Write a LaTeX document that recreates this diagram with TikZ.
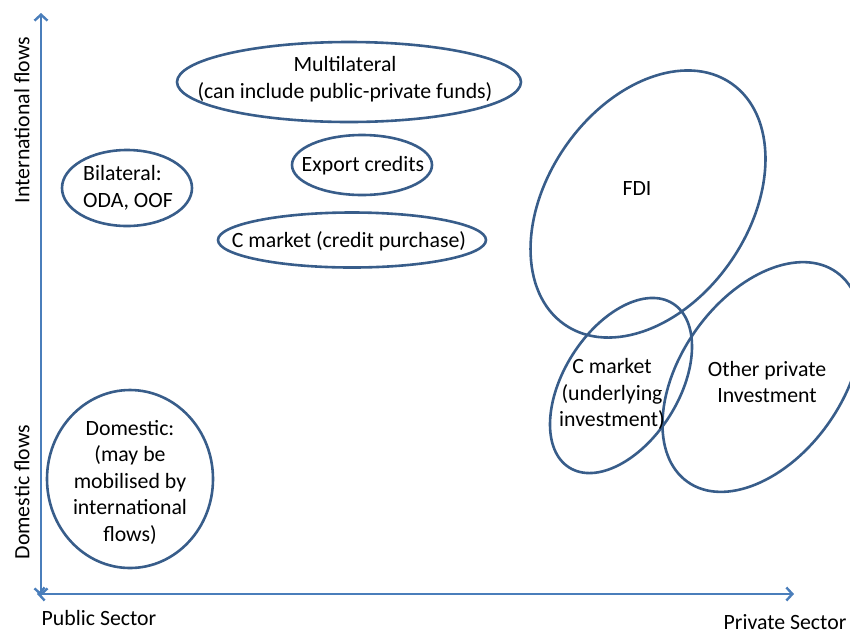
\documentclass[tikz,border=0pt]{standalone}
\usepackage{fontspec}
\setmainfont{Carlito}
\usetikzlibrary{arrows.meta}
\definecolor{axisblue}{HTML}{4A7EBB}
\definecolor{ellblue}{HTML}{385D8A}
\begin{document}
\begin{tikzpicture}[x=1pt,y=-1pt,
  axisline/.style={draw=axisblue,line width=2.4pt,{Straight Barb[length=6pt,width=13pt,line width=2.4pt]}-{Straight Barb[length=6pt,width=13pt,line width=2.4pt]}},
  oval/.style={draw=ellblue,line width=2.6pt},
  lbl/.style={font=\fontsize{21.8}{26.5}\selectfont,align=center,inner sep=0pt,text=black}]
\useasboundingbox (0,0) rectangle (850,633);
% axes
\coordinate (ytop) at (41,13);
\coordinate (ybot) at (41,596);
\coordinate (xleft) at (37,594);
\coordinate (xright) at (794,594);
\draw[axisline] (ybot) -- (ytop);
\draw[axisline] (xleft) -- (xright);
\node[lbl,rotate=90] (intl) at (22,120) {International flows};
\node[lbl,rotate=90] (dom) at (22,492) {Domestic flows};
\node[lbl] (pub) at (99,618) {Public Sector};
\node[lbl] (priv) at (785,622) {Private Sector};
% ellipses
\draw[oval] (349,82) ellipse (172 and 40);
\node[lbl] (multi) at (345,79) {Multilateral\\(can include public-private funds)};
\draw[oval] (127,188) ellipse (65 and 38);
\node[lbl,align=left] (bilat) at (128,188) {Bilateral:\\ODA, OOF};
\draw[oval] (362,165) ellipse (70 and 30);
\node[lbl] (export) at (363,166) {Export credits};
\draw[oval] (352,240) ellipse (134 and 27.5);
\node[lbl] (cmarket1) at (349,241) {C market (credit purchase)};
\draw[oval] (130,479) ellipse (83 and 89);
\node[lbl] (domestic) at (130,482) {Domestic:\\(may be\\mobilised by\\international\\flows)};
\draw[oval,shift={(648,204)},rotate=55.4] (0,0) ellipse (146.6 and 100.7);
\node[lbl] (fdi) at (637,188) {FDI};
\draw[oval,shift={(762,377)},rotate=54.6] (0,0) ellipse (128.6 and 81);
\node[lbl] (other) at (767,382) {Other private\\Investment};
\draw[oval,shift={(621,385.5)},rotate=57.7] (0,0) ellipse (97 and 57.4);
\node[lbl] (cmarket2) at (612,394) {C market\\(underlying\\investment)};
\end{tikzpicture}
\end{document}
